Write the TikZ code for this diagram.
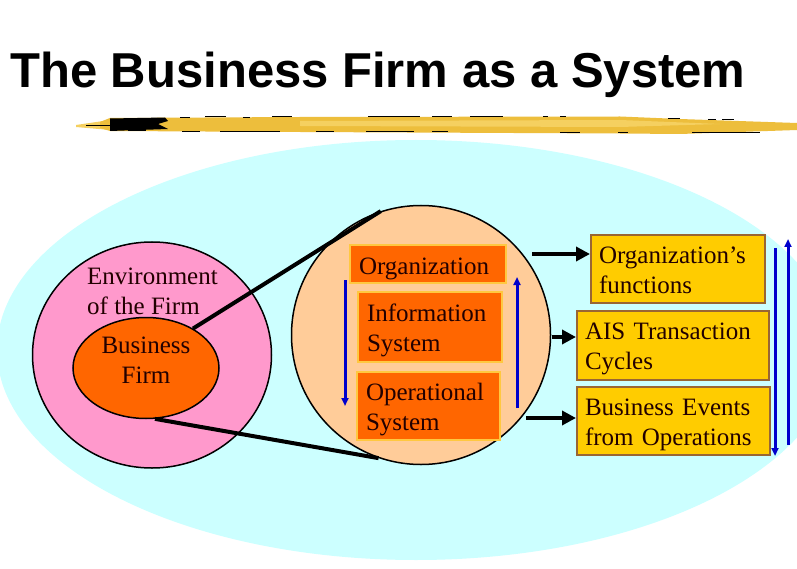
\documentclass[tikz,border=0pt]{standalone}
\usepackage{fontspec}
\setmainfont{Liberation Serif}
\newfontfamily\ttlfont{Liberation Sans}
\usetikzlibrary{arrows.meta,shapes.geometric}
\definecolor{bgcyan}{HTML}{CCFFFF}
\definecolor{pinkc}{HTML}{FF99CC}
\definecolor{orangec}{HTML}{FF6600}
\definecolor{peachc}{HTML}{FFCC99}
\definecolor{yellowc}{HTML}{FFCC00}
\definecolor{ybord}{HTML}{996633}
\definecolor{oborder}{HTML}{FFC840}
\definecolor{txtc}{HTML}{220000}
\definecolor{bluec}{HTML}{0000CC}
\definecolor{brushc}{HTML}{EDBE3C}
\definecolor{brushl}{HTML}{F5D060}
\newcommand\bfnt{\fontsize{25}{30}\selectfont}
\begin{document}
\begin{tikzpicture}[x=1pt,y=-1pt,
  obox/.style={draw=oborder, fill=orangec, line width=1.8pt, inner xsep=9pt, inner ysep=0pt, align=left, text=txtc, font=\bfnt},
  ybox/.style={draw=ybord, fill=yellowc, line width=2pt, inner xsep=8pt, inner ysep=0pt, align=left, text=txtc, font=\bfnt},
  twoline/.style={text height=18pt, text depth=30pt},
  plain/.style={align=left, text=txtc, font=\bfnt, inner sep=0pt},
  shapeline/.style={draw=black, line width=1.5pt, inner sep=0pt},
  blk/.style={line width=4.5pt, -{Triangle[length=14pt,width=14pt]}},
  bluearrow/.style={draw=bluec, line width=3pt, -{Triangle[length=8pt,width=7pt]}},
  brushdash/.style={black, line width=1pt}
]
\useasboundingbox (0,0) rectangle (797,569);
\fill[white] (0,0) rectangle (797,569);
% background ellipse
\begin{scope}
\clip (0,0) rectangle (797,569);
\fill[bgcyan] (416,350) ellipse [x radius=419pt, y radius=210pt];
\end{scope}

% title
\node[anchor=base west, inner sep=0pt, font=\ttlfont\bfseries\fontsize{49}{50}\selectfont] (title) at (10,88) {The Business Firm as a System};

% brush stroke
\fill[brushl] (76,125) -- (110,120) -- (110,130) -- (76,127) -- cycle;
\fill[brushc] (100,122) -- (110,118) -- (300,117) -- (620,116.5) -- (680,119) -- (797,123) -- (797,130) -- (680,134) -- (620,133.5) -- (300,132) -- (110,131) -- (100,128) -- cycle;
\fill[brushl] (300,121) -- (620,120) -- (720,124) -- (620,127) -- (300,126) -- cycle;
\fill[black] (110,118.5) -- (165,117.5) -- (168,121) -- (158,124) -- (168,129) -- (110,131) -- cycle;
\draw[black, line width=0.8pt] (86,125) -- (110,125);
\foreach \a/\b/\c in {180/190/117.5, 205/226/117, 243/250/117.5, 272/292/117, 368/420/117, 432/452/116.5, 470/503/116.5, 543/548/116.5, 560/566/116.5, 668/680/119, 708/716/120, 722/734/120,
  128/146/131, 182/200/131.5, 220/280/132, 316/334/131.5, 366/414/132, 432/448/132, 560/580/133, 618/628/133, 692/760/133}
  \draw[brushdash] (\a,\c) -- (\b,\c);

% environment and firm
\node[shapeline, ellipse, fill=pinkc, minimum width=239pt, minimum height=226pt] (env) at (152,355) {};
\node[shapeline, ellipse, fill=orangec, minimum width=146pt, minimum height=101pt] (firm) at (146,368) {};
\node[plain, anchor=west] (envtxt) at (87,291) {Environment\\of the Firm};
\node[plain, align=center] (firmtxt) at (146,360) {Business\\Firm};

% system circle
\node[shapeline, circle, fill=peachc, minimum size=259pt] (sys) at (421,335) {};
\node[obox, minimum width=156pt, minimum height=38pt, text width=138pt, text height=20pt, text depth=0pt] (org) at (428,264) {Organization};
\node[obox, twoline, minimum width=144pt, minimum height=70pt, text width=126pt] (info) at (430,327) {Information\\System};
\node[obox, twoline, minimum width=143pt, minimum height=68pt, text width=125pt] (oper) at (428.5,406) {Operational\\System};

% right boxes
\node[ybox, twoline, minimum width=174pt, minimum height=68pt, text width=158pt] (ofun) at (678,269) {Organization’s\\functions};
\node[ybox, twoline, minimum width=192pt, minimum height=69pt, text width=176pt] (ais) at (673,345.5) {AIS Transaction\\Cycles};
\node[ybox, twoline, minimum width=193pt, minimum height=68pt, text width=177pt] (bev) at (673.5,421) {Business Events\\from Operations};

% blue arrows
\coordinate (b1s) at (345,280); \coordinate (b1e) at (345,406);
\coordinate (b2s) at (517,408); \coordinate (b2e) at (517,277);
\coordinate (b3s) at (775,248); \coordinate (b3e) at (775,456);
\coordinate (b4s) at (788,445); \coordinate (b4e) at (788,239);
\draw[bluearrow] (b1s) -- (b1e);
\draw[bluearrow] (b2s) -- (b2e);
\draw[bluearrow] (b3s) -- (b3e);
\draw[bluearrow] (b4s) -- (b4e);

% black arrows
\coordinate (a1) at (532,254);
\coordinate (a2) at (552,337);
\coordinate (a3) at (526,418);
\draw[blk] (a1) -- (ofun.west |- a1);
\draw[blk] (a2) -- (ais.west |- a2);
\draw[blk] (a3) -- (bev.west |- a3);

% zoom lines
\draw[line width=4pt] (firm.40) -- (sys.108);
\draw[line width=4pt] (firm.-80) -- (sys.251);
\end{tikzpicture}
\end{document}
